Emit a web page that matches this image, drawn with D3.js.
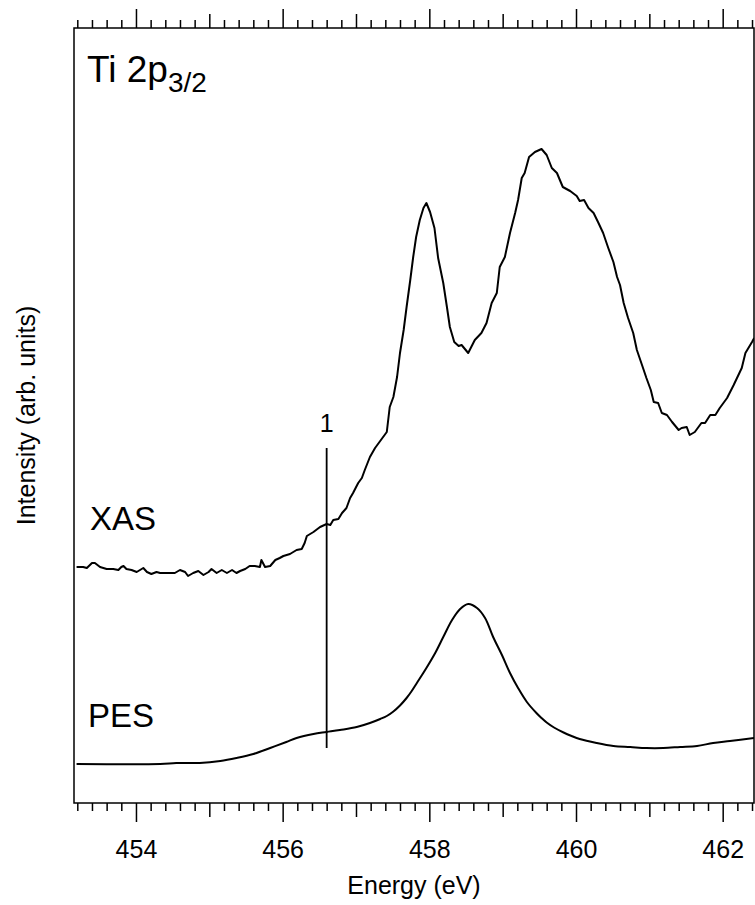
<!DOCTYPE html>
<html>
<head>
<meta charset="utf-8">
<script src="https://cdn.jsdelivr.net/npm/d3@7"></script>
<style>
  body { margin: 0; background: #fff; }
  text { font-family: "Liberation Sans", Arial, Helvetica, sans-serif; fill: #000; }
</style>
</head>
<body>
<div id="chart"></div>
<script>
// data (energy in eV, intensity in arb. units)
const xasEnergy = [453.19,453.28,453.33,453.40,453.44,453.51,453.60,453.69,453.76,453.80,453.83,453.87,453.94,454.01,454.10,454.15,454.21,454.28,454.33,454.37,454.46,454.53,454.60,454.67,454.71,454.78,454.85,454.92,454.99,455.03,455.10,455.17,455.24,455.31,455.37,455.42,455.49,455.55,455.62,455.69,455.71,455.76,455.83,455.90,455.96,456.01,456.10,456.19,456.26,456.30,456.33,456.42,456.51,456.60,456.65,456.69,456.76,456.81,456.87,456.92,456.96,457.03,457.08,457.12,457.19,457.26,457.33,457.42,457.46,457.51,457.56,457.60,457.65,457.69,457.74,457.78,457.82,457.87,457.92,457.96,458.01,458.07,458.12,458.19,458.24,458.28,458.34,458.40,458.44,458.53,458.62,458.71,458.78,458.85,458.92,458.96,459.03,459.10,459.17,459.21,459.26,459.30,459.36,459.44,459.53,459.60,459.67,459.74,459.82,459.92,460.01,460.05,460.11,460.17,460.24,460.30,460.37,460.44,460.51,460.56,460.60,460.65,460.71,460.78,460.83,460.90,460.96,461.02,461.06,461.12,461.17,461.24,461.31,461.40,461.44,461.51,461.55,461.62,461.71,461.76,461.83,461.90,461.96,462.06,462.15,462.26,462.31,462.40,462.43]
const xasIntensity = [236,236,235,240,240,236,234,234,233,236,237,234,233,231,235,231,229,231,230,230,230,230,233,231,227,230,232,228,231,234,230,233,230,233,230,232,234,237,237,236,243,236,237,243,245,247,249,253,254,260,267,271,276,279,278,283,284,290,295,305,310,320,325,333,346,355,362,371,396,406,426,450,473,496,523,546,566,583,595,600,591,575,545,520,496,476,461,457,458,450,463,470,480,500,510,536,546,570,590,603,625,630,646,651,654,648,635,630,616,612,607,602,603,595,590,581,570,555,541,526,518,500,485,470,453,438,425,413,401,400,390,388,381,373,375,376,368,371,380,380,388,388,395,405,418,435,450,461,465]

const pesEnergy = [453.19,454.33,454.55,454.87,455.15,455.37,455.60,455.83,456.05,456.19,456.42,456.60,456.78,457.01,457.19,457.33,457.42,457.51,457.60,457.69,457.76,457.83,457.96,458.08,458.19,458.31,458.42,458.53,458.65,458.76,458.87,458.99,459.10,459.21,459.33,459.46,459.53,459.60,459.70,459.83,459.94,460.05,460.28,460.51,460.74,460.96,461.19,461.42,461.65,461.87,462.10,462.43]
const pesIntensity = [39,39,40,40,42,45,49,55,61,65,69,71,73,76,80,84,87,91.5,97.5,105,112,120,135,150,166,183,194,199,195,185,166,148,130,115,101,90,85,80.5,75.5,70.5,67,64,60,57,56,55,55,56,57,60,62,65]

// marker line "1"
const markerEnergy = 456.6
const markerRange = [55, 355]
const markerLabel = "1"

const majorTicks = [454, 456, 458, 460, 462]
const xDomain = [453.155, 462.427]
const yDomain = [0, 775]

// const
const width = 755
const height = 905
const margin = { top: 28, bottom: 102, left: 74, right: 1 }

const svg = d3.select("#chart")
    .append("svg")
    .attr("width", width)
    .attr("height", height)

const x = d3.scaleLinear()
    .domain(xDomain)
    .range([margin.left, width - margin.right])

const y = d3.scaleLinear()
    .domain(yDomain)
    .range([height - margin.bottom, margin.top])

const x0 = margin.left, x1 = width - margin.right
const y0 = margin.top, y1 = height - margin.bottom

// tick values (0.2 eV minor, odd integers medium, even integers major)
const allTicks = d3.range(453.2, 462.41, 0.2).map(v => Math.round(v * 10) / 10)
const minorTicks = allTicks.filter(v => Math.abs(v - Math.round(v)) > 0.01)
const mediumTicks = allTicks.filter(v => Math.abs(v - Math.round(v)) < 0.01 && Math.round(v) % 2 === 1)

function drawAxis(maker, ypos, values, size, labels) {
    const ax = maker(x).tickValues(values).tickSizeOuter(0).tickSize(size)
    if (labels) ax.tickPadding(18).tickFormat(d3.format("d"))
    else ax.tickFormat("")
    const g = svg.append("g")
        .attr("transform", `translate(0,${ypos})`)
        .call(ax)
    g.select(".domain").remove()
    g.selectAll("line").attr("stroke", "#000").attr("stroke-width", 1.5)
    g.selectAll("text")
        .style("font-size", "25px")
        .style("font-family", '"Liberation Sans", Arial, Helvetica, sans-serif')
        .attr("fill", "#000")
    return g
}

// bottom axis
drawAxis(d3.axisBottom, y1, minorTicks, 8)
drawAxis(d3.axisBottom, y1, mediumTicks, 14)
drawAxis(d3.axisBottom, y1, majorTicks, 19, true)
// top axis
drawAxis(d3.axisTop, y0, minorTicks, 8)
drawAxis(d3.axisTop, y0, mediumTicks, 14)
drawAxis(d3.axisTop, y0, majorTicks, 19)

// frame
svg.append("rect")
    .attr("x", x0)
    .attr("y", y0)
    .attr("width", x1 - x0)
    .attr("height", y1 - y0)
    .attr("fill", "none")
    .attr("stroke", "#000")
    .attr("stroke-width", 1.5)

svg.append("clipPath").attr("id", "clip")
    .append("rect")
    .attr("x", x0).attr("y", y0)
    .attr("width", x1 - x0).attr("height", y1 - y0)

const line = d3.line()
    .x(d => x(d[0]))
    .y(d => y(d[1]))

const plot = svg.append("g").attr("clip-path", "url(#clip)")

plot.append("path")
    .datum(d3.zip(xasEnergy, xasIntensity))
    .attr("fill", "none")
    .attr("stroke", "#000")
    .attr("stroke-width", 2)
    .attr("stroke-linejoin", "round")
    .attr("d", line)

plot.append("path")
    .datum(d3.zip(pesEnergy, pesIntensity))
    .attr("fill", "none")
    .attr("stroke", "#000")
    .attr("stroke-width", 2)
    .attr("stroke-linejoin", "round")
    .attr("d", d3.line().curve(d3.curveCatmullRom).x(d => x(d[0])).y(d => y(d[1])))

// marker
plot.append("line")
    .attr("x1", x(markerEnergy)).attr("x2", x(markerEnergy))
    .attr("y1", y(markerRange[0])).attr("y2", y(markerRange[1]))
    .attr("stroke", "#000")
    .attr("stroke-width", 1.8)

svg.append("text")
    .attr("x", x(markerEnergy))
    .attr("y", y(markerRange[1]) - 16)
    .attr("text-anchor", "middle")
    .style("font-size", "25px")
    .text(markerLabel)

// labels
const title = svg.append("text")
    .attr("x", 87)
    .attr("y", 82)
    .style("font-size", "37px")
title.append("tspan").text("Ti 2p")
title.append("tspan").attr("dy", 10).style("font-size", "28px").text("3/2")

svg.append("text")
    .attr("x", 90).attr("y", 530)
    .style("font-size", "33px")
    .text("XAS")

svg.append("text")
    .attr("x", 88).attr("y", 727)
    .style("font-size", "33px")
    .text("PES")

svg.append("text")
    .attr("x", (x0 + x1) / 2)
    .attr("y", 894)
    .attr("text-anchor", "middle")
    .style("font-size", "25px")
    .text("Energy (eV)")

svg.append("text")
    .attr("transform", `translate(35,${(y0 + y1) / 2}) rotate(-90)`)
    .attr("text-anchor", "middle")
    .style("font-size", "25px")
    .text("Intensity (arb. units)")
</script>
</body>
</html>
